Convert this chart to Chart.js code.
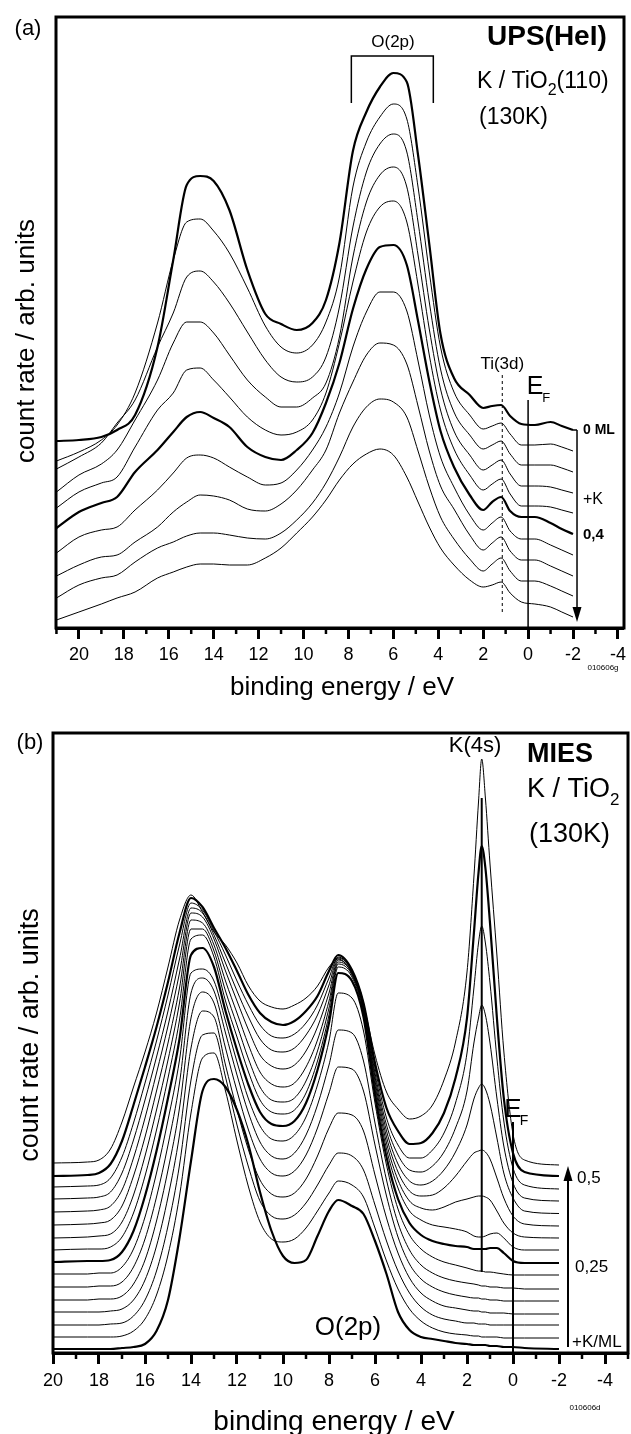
<!DOCTYPE html>
<html>
<head>
<meta charset="utf-8">
<script src="https://cdn.jsdelivr.net/npm/chart.js@4.4.1/dist/chart.umd.min.js"></script>
<style>
  html, body { margin: 0; padding: 0; background: #fff; }
  #wrap { position: relative; width: 631px; height: 1434px; }
  canvas { position: absolute; left: 0; }
  #upsChart { top: 0; }
  #miesChart { top: 720px; }
</style>
</head>
<body>
<div id="wrap">
  <canvas id="upsChart" width="631" height="720"></canvas>
  <canvas id="miesChart" width="631" height="714"></canvas>
</div>
<script>
const FONT = '"Liberation Sans", Arial, Helvetica, sans-serif';

// ---- panel (a): UPS(HeI), K / TiO2(110), 0 ML at top, +K going down ----
const upsEnergy = [21, 20, 19, 18.3, 17.5, 16.5, 15.8, 15.2, 14.6, 14, 13.3, 12.5, 11.7, 11, 10.3, 9.6, 9, 8.4, 7.8, 7.2,
                   6.6, 6, 5.4, 4.9, 4.4, 3.9, 3.3, 2.6, 2, 1.6, 1.2, 0.8, 0.3, -0.3, -1, -1.5, -2];
const ups1  = [186, 187, 190, 197, 212, 280, 367, 442, 451, 446, 417, 357, 313, 303, 297, 304, 327, 384, 476, 515, 540, 554, 545, 472, 383, 293, 249, 232, 219, 221, 222, 211, 203, 202, 205, 201, 197];
const ups2  = [166, 175, 187, 202, 234, 304, 367, 405, 408, 396, 374, 339, 301, 280, 274, 282, 305, 350, 440, 485, 510, 523, 508, 440, 355, 280, 235, 212, 198, 201, 204, 193, 182, 182, 183, 180, 176];
const ups3  = [158, 170, 184, 204, 227, 280, 314, 350, 356, 345, 324, 295, 267, 250, 245, 250, 270, 320, 400, 455, 483, 493, 475, 405, 325, 258, 215, 192, 178, 182, 186, 173, 162, 162, 162, 159, 155];
const ups4  = [135, 152, 163, 177, 207, 247, 284, 305, 305, 294, 272, 247, 230, 220, 220, 229, 244, 290, 370, 425, 452, 460, 440, 372, 298, 238, 196, 172, 157, 162, 167, 153, 141, 141, 140, 137, 134];
const ups5  = [119, 135, 144, 150, 180, 217, 234, 257, 259, 247, 230, 210, 197, 192, 195, 207, 234, 284, 345, 395, 420, 426, 405, 342, 272, 217, 178, 152, 137, 143, 148, 133, 121, 121, 120, 117, 114];
const ups6  = [99, 115, 124, 130, 155, 177, 195, 210, 215, 209, 200, 180, 170, 167, 177, 194, 224, 264, 318, 358, 380, 382, 362, 306, 246, 196, 160, 132, 117, 125, 130, 116, 110, 110, 104, 98, 93];
const ups7  = [74, 90, 97, 100, 117, 137, 154, 169, 172, 169, 160, 150, 142, 144, 157, 177, 200, 234, 280, 315, 335, 335, 316, 266, 212, 170, 140, 112, 97, 104, 110, 96, 88, 88, 82, 77, 72];
const ups8  = [51, 62, 70, 72, 85, 100, 115, 125, 132, 131, 127, 118, 116, 123, 137, 157, 177, 214, 245, 272, 284, 282, 263, 221, 176, 141, 118, 92, 77, 84, 90, 76, 67, 67, 61, 56, 51];
const ups9  = [29, 42, 49, 52, 65, 79, 85, 91, 94, 94, 92, 89, 88, 94, 107, 124, 144, 170, 200, 220, 228, 225, 210, 176, 140, 110, 88, 68, 56, 63, 69, 56, 46, 46, 41, 36, 31];
const ups10 = [7, 15, 23, 29, 35, 49, 55, 60, 63, 63, 62, 62, 69, 79, 94, 110, 127, 147, 163, 173, 178, 172, 150, 125, 100, 79, 62, 47, 40, 42, 45, 34, 25, 23, 20, 15, 10];
const upsCurves = [ups1, ups2, ups3, ups4, ups5, ups6, ups7, ups8, ups9, ups10];
const upsBold = [0, 5];   // 0 ML and 0,4 ML drawn heavier
const upsTicks = [20, 18, 16, 14, 12, 10, 8, 6, 4, 2, 0, -2, -4];
const upsMinor = [21, 19, 17, 15, 13, 11, 9, 7, 5, 3, 1, -1, -3];

// ---- panel (b): MIES, K / TiO2, +K/ML going up ----
const miesEnergy = [20, 18.5, 18, 17.5, 17, 16.5, 16, 15.5, 15, 14.5, 14, 13.5, 13,
                    12.5, 12, 11.5, 11, 10.5, 10, 9.5, 9, 8.5, 8, 7.6, 7,
                    6.5, 6, 5.5, 5, 4.5, 4, 3.5, 3, 2.5, 2,
                    1.7, 1.5, 1.36, 1.2, 1, 0.7, 0.4, 0, -0.5, -2];
const mies1  = [190, 191, 193, 204, 231, 266, 301, 340, 386, 433, 458, 441, 421, 408, 390, 367, 352, 346, 344, 348, 355, 367, 386, 394, 379, 348, 298, 261, 244, 234, 237, 248, 273, 311, 381, 476, 551, 594, 555, 489, 398, 302, 219, 193, 188];
const mies2  = [177, 178, 180, 189, 212, 248, 286, 326, 371, 420, 455, 446, 425, 405, 382, 358, 340, 331, 328, 332, 342, 357, 382, 398, 383, 350, 290, 245, 222, 209, 210, 220, 240, 275, 335, 420, 480, 507, 485, 430, 335, 255, 200, 181, 177];
const mies3  = [166, 167, 168, 175, 196, 230, 270, 312, 358, 408, 450, 443, 422, 398, 372, 348, 328, 317, 315, 319, 330, 348, 375, 396, 382, 350, 285, 235, 208, 195, 195, 203, 220, 250, 300, 365, 410, 427, 410, 370, 295, 232, 185, 168, 164];
const mies4  = [154, 155, 156, 161, 180, 213, 253, 296, 342, 394, 445, 440, 418, 390, 362, 336, 314, 303, 301, 305, 318, 338, 368, 395, 382, 348, 280, 228, 198, 183, 181, 187, 201, 225, 262, 310, 335, 348, 338, 310, 255, 207, 170, 155, 152];
const mies5  = [141, 142, 143, 147, 163, 195, 235, 280, 327, 380, 440, 436, 414, 382, 352, 323, 298, 287, 284, 288, 302, 326, 360, 393, 381, 346, 276, 222, 189, 172, 168, 172, 183, 201, 228, 254, 265, 269, 264, 249, 215, 180, 155, 142, 139.5];
const mies6  = [128, 129, 130, 133, 147, 177, 216, 262, 310, 365, 433, 430, 408, 372, 340, 308, 281, 269, 266, 270, 286, 313, 352, 391, 380, 344, 272, 216, 181, 162, 157, 158, 165, 177, 192, 200, 202, 203, 201, 194, 175, 155, 137, 129, 127];
const mies7  = [115, 116, 117, 119, 131, 158, 197, 243, 293, 350, 424, 424, 402, 362, 328, 294, 266, 253, 251, 255, 272, 302, 345, 389, 378, 342, 268, 210, 173, 152, 145, 143, 146, 151, 154, 156, 157, 157, 156, 153, 142, 130, 120, 116, 115];
const mies8  = [103, 104, 104, 106, 116, 140, 177, 223, 275, 333, 414, 418, 396, 352, 316, 281, 253, 241, 239, 243, 260, 292, 338, 386, 376, 340, 264, 204, 165, 142, 133, 128, 126, 124, 121, 117, 116, 116, 117, 119, 120, 115, 106, 103, 103];
const mies9  = [91, 92, 92, 93, 101, 122, 157, 202, 255, 314, 398, 405, 386, 342, 303, 268, 241, 229, 227, 232, 250, 283, 330, 380, 372, 336, 258, 196, 154, 130, 118, 112, 109, 107, 106, 104, 104, 104, 104, 105, 105, 100, 92, 90, 90];
const mies10 = [79, 79, 80, 80, 86, 104, 136, 180, 233, 293, 380, 384, 372, 332, 291, 254, 227, 214, 212, 218, 236, 268, 312, 360, 355, 322, 250, 188, 144, 118, 104, 96, 91, 88, 85, 83, 82, 82, 81, 81, 80, 79, 78, 78, 78];
const mies11 = [66, 66, 67, 67, 71, 86, 114, 156, 208, 270, 360, 375, 362, 320, 278, 240, 211, 197, 194, 200, 218, 248, 288, 323, 320, 292, 230, 173, 130, 103, 88, 80, 75, 72, 70, 69, 68, 67, 67, 66, 66, 65, 65, 64, 64];
const mies12 = [53, 53, 54, 54, 57, 69, 93, 132, 183, 245, 335, 361, 350, 305, 262, 223, 194, 180, 177, 182, 198, 225, 260, 286, 284, 262, 208, 157, 116, 89, 74, 66, 61, 58, 56, 55, 55, 54, 54, 53, 53, 52, 52, 52, 52];
const mies13 = [41, 41, 41, 42, 44, 53, 73, 107, 156, 218, 305, 342, 336, 288, 243, 203, 173, 159, 156, 160, 174, 197, 225, 240, 238, 222, 178, 135, 100, 75, 60, 52, 47, 45, 43, 42, 42, 41, 41, 40, 40, 40, 39, 39, 39];
const mies14 = [28, 28, 28, 29, 30, 37, 53, 82, 127, 188, 273, 318, 320, 276, 228, 186, 152, 137, 134, 138, 150, 168, 188, 200, 197, 183, 148, 112, 82, 60, 46, 38, 34, 32, 30, 30, 29, 29, 29, 28, 28, 28, 28, 28, 28];
const mies15 = [16, 16, 16, 16, 17, 22, 34, 58, 98, 157, 240, 295, 300, 262, 212, 166, 131, 114, 111, 114, 125, 142, 160, 172, 168, 156, 125, 92, 64, 44, 32, 25, 21, 19, 18, 17, 17, 16, 16, 16, 16, 15, 15, 15, 15];
const mies16 = [4, 4, 4, 4, 5, 6, 9, 22, 53, 115, 192, 262, 274, 266, 243, 208, 161, 122, 97, 90, 93, 117, 142, 153, 147, 139, 112, 79, 41, 23, 16, 14, 12, 10, 9, 8, 8, 8, 8, 7, 7, 6, 6, 5, 4];
const miesCurves = [mies1, mies2, mies3, mies4, mies5, mies6, mies7, mies8, mies9, mies10, mies11, mies12, mies13, mies14, mies15, mies16];
const miesBold = [1, 8, 15];   // 0,5 ML, 0,25 ML and clean surface
const miesTicks = [20, 18, 16, 14, 12, 10, 8, 6, 4, 2, 0, -2, -4];
const miesMinor = [19, 17, 15, 13, 11, 9, 7, 5, 3, 1, -1, -3, -5];

// builds one line dataset per spectrum
function makeSets(energy, curves, bold) {
  return curves.map((vals, i) => ({
    data: vals.map((v, j) => ({ x: energy[j], y: v })),
    borderColor: '#000',
    borderWidth: bold.includes(i) ? 2.2 : 1,
    pointRadius: 0,
    cubicInterpolationMode: 'monotone',
    fill: false
  }));
}

function txt(ctx, s, x, y, size, opt = {}) {
  ctx.font = (opt.bold ? 'bold ' : '') + size + 'px ' + FONT;
  ctx.textAlign = opt.align || 'center';
  ctx.textBaseline = 'middle';
  ctx.fillStyle = '#000';
  ctx.fillText(s, x, y);
  return ctx.measureText(s).width;
}

function line(ctx, x1, y1, x2, y2, w, dash) {
  ctx.save();
  ctx.lineWidth = w;
  ctx.strokeStyle = '#000';
  ctx.setLineDash(dash || []);
  ctx.beginPath();
  ctx.moveTo(x1, y1);
  ctx.lineTo(x2, y2);
  ctx.stroke();
  ctx.restore();
}

function arrowHead(ctx, x, tipY, dir) {
  // dir = 1 pointing down, -1 pointing up
  ctx.beginPath();
  ctx.moveTo(x, tipY);
  ctx.lineTo(x - 4.5, tipY - dir * 15);
  ctx.lineTo(x + 4.5, tipY - dir * 15);
  ctx.closePath();
  ctx.fillStyle = '#000';
  ctx.fill();
}

function vTitle(ctx, s, x, y, size) {
  ctx.save();
  ctx.translate(x, y);
  ctx.rotate(-Math.PI / 2);
  txt(ctx, s, 0, 0, size);
  ctx.restore();
}

// white page, frame round the plot box, short minor ticks
function frameAndMinor(minor) {
  return {
    id: 'frameAndMinor',
    beforeDraw(chart) {
      const { ctx, width, height } = chart;
      ctx.save();
      ctx.fillStyle = '#fff';
      ctx.fillRect(0, 0, width, height);
      ctx.restore();
    },
    afterDatasetsDraw(chart) {
      const { ctx, chartArea: a, scales: { x } } = chart;
      ctx.save();
      ctx.strokeStyle = '#000';
      ctx.lineWidth = 3;
      ctx.strokeRect(a.left, a.top, a.right - a.left, a.bottom - a.top);
      minor.forEach(v => {
        const px = x.getPixelForValue(v);
        line(ctx, px, a.bottom, px, a.bottom + 6, 2.5);
      });
      ctx.restore();
    }
  };
}

function xAxis(min, max, ticks, axisHeight, pad) {
  return {
    type: 'linear',
    reverse: true,
    min: min,
    max: max,
    afterBuildTicks: s => { s.ticks = ticks.map(v => ({ value: v })); },
    afterFit: s => { s.height = axisHeight; },
    grid: { display: true, drawOnChartArea: false, drawTicks: true, tickLength: 11, tickWidth: 3, tickColor: '#000', color: '#000' },
    border: { display: true, width: 3, color: '#000' },
    ticks: { color: '#000', autoSkip: false, maxRotation: 0, padding: pad, font: { family: FONT, size: 18 }, callback: v => String(v) }
  };
}

// ---- labels of panel (a) ----
const upsNotes = {
  id: 'upsNotes',
  afterDraw(chart) {
    const { ctx, scales: { x, y } } = chart;
    txt(ctx, '(a)', 28, 29, 22);
    txt(ctx, 'O(2p)', 393, 42, 17);
    ctx.save();
    ctx.lineWidth = 1.5; ctx.strokeStyle = '#000';
    ctx.beginPath();
    ctx.moveTo(x.getPixelForValue(7.87), 103);
    ctx.lineTo(x.getPixelForValue(7.87), 56);
    ctx.lineTo(x.getPixelForValue(4.22), 56);
    ctx.lineTo(x.getPixelForValue(4.22), 103);
    ctx.stroke();
    ctx.restore();
    txt(ctx, 'UPS(HeI)', 487, 37, 28, { bold: true, align: 'left' });
    let w = txt(ctx, 'K / TiO', 477, 82, 23, { align: 'left' });
    let w2 = txt(ctx, '2', 477 + w, 91, 16, { align: 'left' });
    txt(ctx, '(110)', 477 + w + w2, 82, 23, { align: 'left' });
    txt(ctx, '(130K)', 479, 118, 23, { align: 'left' });

    // Ti(3d) and Fermi level
    const xTi = x.getPixelForValue(1.15);
    txt(ctx, 'Ti(3d)', xTi, 364, 17);
    line(ctx, xTi, 375, xTi, 612, 1, [3, 3]);
    const xF = x.getPixelForValue(0);
    txt(ctx, 'E', xF + 7, 387, 25, { align: 'center' });
    txt(ctx, 'F', xF + 18, 398, 13);
    line(ctx, xF, 400, xF, chart.chartArea.bottom, 1.5);

    // coverage arrow
    const xEnd = x.getPixelForValue(-2), yTop = y.getPixelForValue(ups1[ups1.length - 1]);
    const xArr = xEnd + 4;
    line(ctx, xEnd, yTop, xArr, yTop, 1.5);
    line(ctx, xArr, yTop, xArr, 608, 1.5);
    arrowHead(ctx, xArr, 622, 1);
    txt(ctx, '0 ML', 583, yTop, 14, { bold: true, align: 'left' });
    txt(ctx, '+K', 583, 500, 16, { align: 'left' });
    txt(ctx, '0,4', 583, 535, 15, { bold: true, align: 'left' });
    txt(ctx, '010606g', 603, 668, 8);

    txt(ctx, 'binding energy / eV', 342, 688, 26);
    vTitle(ctx, 'count rate / arb. units', 27, 341, 26);
  }
};

// ---- labels of panel (b) ----
const miesNotes = {
  id: 'miesNotes',
  afterDraw(chart) {
    const { ctx, scales: { x, y } } = chart;
    txt(ctx, '(b)', 30, 23, 22);
    txt(ctx, 'K(4s)', 475, 26, 22);
    txt(ctx, 'MIES', 527, 35, 27, { bold: true, align: 'left' });
    let w = txt(ctx, 'K / TiO', 527, 70, 27, { align: 'left' });
    txt(ctx, '2', 527 + w, 80, 17, { align: 'left' });
    txt(ctx, '(130K)', 529, 115, 27, { align: 'left' });

    const xK = x.getPixelForValue(1.36);
    line(ctx, xK, y.getPixelForValue(555), xK, y.getPixelForValue(81), 2);
    const xF = x.getPixelForValue(0);
    txt(ctx, 'E', xF, 390, 26);
    txt(ctx, 'F', xF + 11, 401, 14);
    line(ctx, xF, 402, xF, chart.chartArea.bottom, 2);

    const xArr = 568;
    line(ctx, xArr, 627, xArr, 458, 2);
    arrowHead(ctx, xArr, 446, -1);
    txt(ctx, '0,5', 577, 458, 17, { align: 'left' });
    txt(ctx, '0,25', 575, 547, 17, { align: 'left' });
    txt(ctx, '+K/ML', 572, 622, 17, { align: 'left' });

    txt(ctx, 'O(2p)', 348, 608, 26);
    txt(ctx, '010606d', 585, 688, 8);
    txt(ctx, 'binding energy / eV', 334, 702, 28);
    vTitle(ctx, 'count rate / arb. units', 31, 315, 27);
  }
};

new Chart(document.getElementById('upsChart'), {
  type: 'line',
  data: { datasets: makeSets(upsEnergy, upsCurves, upsBold) },
  options: {
    responsive: false,
    devicePixelRatio: 1,
    animation: false,
    layout: { padding: { left: 56, right: 6, top: 17, bottom: 0 } },
    scales: {
      x: xAxis(-4.27, 21.02, upsTicks, 92, 5),
      y: { display: false, min: -1, max: 610 }
    },
    plugins: { legend: { display: false }, tooltip: { enabled: false } }
  },
  plugins: [frameAndMinor(upsMinor), upsNotes]
});

new Chart(document.getElementById('miesChart'), {
  type: 'line',
  data: { datasets: makeSets(miesEnergy, miesCurves, miesBold) },
  options: {
    responsive: false,
    devicePixelRatio: 1,
    animation: false,
    layout: { padding: { left: 53, right: 3, top: 13, bottom: 0 } },
    scales: {
      x: xAxis(-5, 20, miesTicks, 81, 6),
      y: { display: false, min: 0, max: 620 }
    },
    plugins: { legend: { display: false }, tooltip: { enabled: false } }
  },
  plugins: [frameAndMinor(miesMinor), miesNotes]
});
</script>
</body>
</html>
